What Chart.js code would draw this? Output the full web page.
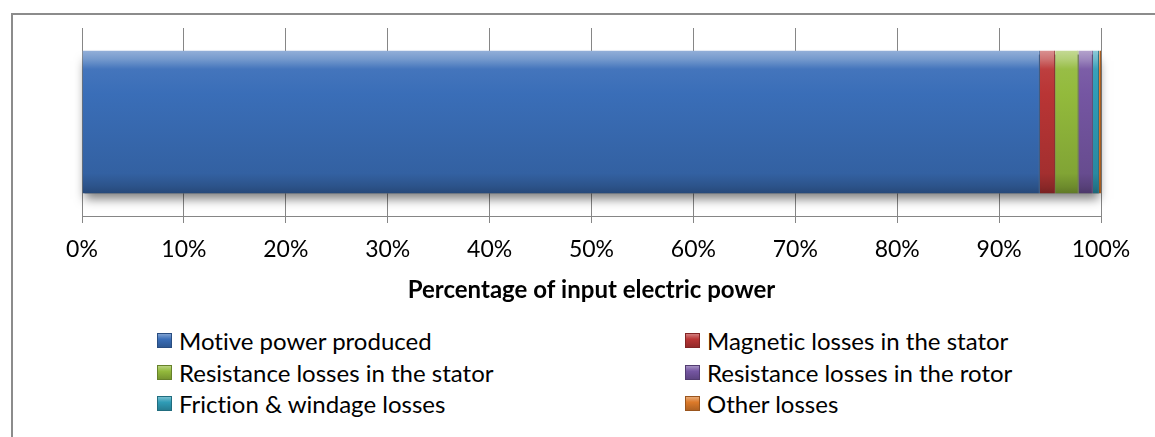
<!DOCTYPE html>
<html>
<head>
<meta charset="utf-8">
<script src="https://cdn.jsdelivr.net/npm/chart.js@4.4.1/dist/chart.umd.min.js"></script>
<style>
  html, body { margin: 0; padding: 0; background: #fff; width: 1155px; height: 437px; overflow: hidden; font-family: Lato, "Open Sans", sans-serif; font-variant-ligatures: none; }
  #frame { position: absolute; left: 11px; top: 13px; width: 1200px; height: 500px; border: 2px solid #8c8c8c; box-sizing: border-box; }
  #chart { position: absolute; left: 0; top: 0; }
  .item { position: absolute; height: 30px; display: flex; align-items: center; font-size: 24px; color: #000; white-space: nowrap; }
  .box { width: 15px; height: 15px; margin-right: 7px; box-sizing: border-box; }
</style>
</head>
<body>
<div id="frame"></div>
<canvas id="chart" width="1155" height="310"></canvas>
<div id="legend"></div>
<script>
// Breakdown of input electric power for an electric motor
const categories = ['Input electric power'];
const seriesNames = [
  'Motive power produced',
  'Magnetic losses in the stator',
  'Resistance losses in the stator',
  'Resistance losses in the rotor',
  'Friction & windage losses',
  'Other losses'
];
const seriesValues = [94.0, 1.5, 2.3, 1.4, 0.6, 0.2];
const seriesColors = ['#3a6eb8', '#b93535', '#93ba3c', '#7556a2', '#2f9cb6', '#dc7a2a'];
const axisTitle = 'Percentage of input electric power';
const tickStep = 10;
const axisMax = 100;

function shade(hex, f) {
  const n = parseInt(hex.slice(1), 16);
  let r = (n >> 16) & 255, g = (n >> 8) & 255, b = n & 255;
  const t = f < 0 ? 0 : 255, p = Math.abs(f);
  r = Math.round((t - r) * p + r); g = Math.round((t - g) * p + g); b = Math.round((t - b) * p + b);
  return 'rgb(' + r + ',' + g + ',' + b + ')';
}

// Bevelled fill and drop shadow for the stacked bar
const bevelPlugin = {
  id: 'bevel',
  beforeDatasetsDraw(chart) {
    const ctx = chart.ctx;
    let left = Infinity, right = -Infinity, top = 0, bottom = 0;
    chart.data.datasets.forEach((ds, i) => {
      const meta = chart.getDatasetMeta(i);
      meta.data.forEach(el => {
        const t = el.y - el.height / 2, b = el.y + el.height / 2;
        top = t; bottom = b;
        left = Math.min(left, el.base, el.x);
        right = Math.max(right, el.base, el.x);
        const base = seriesColors[i];
        const g = ctx.createLinearGradient(0, t, 0, b);
        g.addColorStop(0, shade(base, 0.45));
        g.addColorStop(0.06, shade(base, 0.3));
        g.addColorStop(0.13, shade(base, 0.05));
        g.addColorStop(0.3, base);
        g.addColorStop(0.86, shade(base, -0.12));
        g.addColorStop(0.95, shade(base, -0.25));
        g.addColorStop(1, shade(base, -0.35));
        el.options.backgroundColor = g;
        el.options.borderColor = shade(base, -0.25);
      });
    });
    ctx.save();
    ctx.shadowColor = 'rgba(0,0,0,0.5)';
    ctx.shadowBlur = 10;
    ctx.shadowOffsetY = 6;
    ctx.fillStyle = '#777';
    ctx.fillRect(left + 2, top + 4, right - left - 4, bottom - top - 4);
    ctx.restore();
  }
};

const ticksFont = { family: 'Lato', size: 23 };

const chart = new Chart(document.getElementById('chart'), {
  type: 'bar',
  data: {
    labels: categories,
    datasets: seriesNames.map((name, i) => ({
      label: name,
      data: [seriesValues[i]],
      backgroundColor: seriesColors[i],
      borderColor: seriesColors[i],
      borderWidth: { left: 0, right: 1, top: 0, bottom: 0 },
      borderSkipped: false,
      barPercentage: 0.76,
      categoryPercentage: 1
    }))
  },
  options: {
    indexAxis: 'y',
    responsive: false,
    animation: false,
    devicePixelRatio: 1,
    layout: { padding: { left: 82, right: 54, top: 28, bottom: 0 } },
    plugins: { legend: { display: false }, tooltip: { enabled: false } },
    scales: {
      x: {
        stacked: true,
        min: 0,
        max: axisMax,
        ticks: {
          stepSize: tickStep,
          callback: v => v + '%',
          color: '#000',
          font: ticksFont,
          padding: 13,
          maxRotation: 0
        },
        grid: { color: '#868686', lineWidth: 1, tickLength: 7, drawOnChartArea: true },
        border: { color: '#868686', width: 1 },
        title: {
          display: true,
          text: axisTitle,
          color: '#000',
          font: { family: 'Lato', size: 24, weight: 'bold' },
          padding: { top: 0, bottom: 5 }
        },
        afterFit(scale) { scale.height = 94; }
      },
      y: { stacked: true, display: false }
    }
  },
  plugins: [bevelPlugin]
});

// Two-column legend built from the chart's datasets
const legendPos = [[157, 325], [685, 325], [157, 357], [685, 357], [157, 388], [685, 388]];
const legendEl = document.getElementById('legend');
chart.data.datasets.forEach((ds, i) => {
  const item = document.createElement('div');
  item.className = 'item';
  item.style.left = legendPos[i][0] + 'px';
  item.style.top = legendPos[i][1] + 'px';
  const box = document.createElement('span');
  box.className = 'box';
  const c = seriesColors[i];
  box.style.background = 'linear-gradient(180deg,' + shade(c, 0.35) + ' 0%,' + c + ' 40%,' + shade(c, -0.2) + ' 100%)';
  box.style.border = '1px solid ' + shade(c, -0.3);
  const txt = document.createElement('span');
  txt.textContent = ds.label;
  item.appendChild(box);
  item.appendChild(txt);
  legendEl.appendChild(item);
});
</script>
</body>
</html>
